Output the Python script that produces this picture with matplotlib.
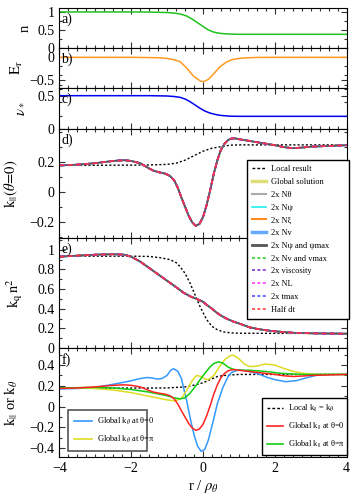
import matplotlib
matplotlib.use('Agg')
import matplotlib.pyplot as plt
from matplotlib.lines import Line2D
from matplotlib.ticker import MultipleLocator, FixedLocator, FuncFormatter

plt.rcParams['font.family'] = ['Liberation Serif', 'DejaVu Serif']
plt.rcParams['mathtext.fontset'] = 'stix'
plt.rcParams['font.size'] = 10

# ---- data ----
# a) density
r_n = [-4, -2, -1.5, -1.0, -0.75, -0.6, -0.45, -0.3, -0.15, 0.0, 0.15, 0.3, 0.45, 0.6, 0.8, 1.0, 2.0, 4.0]
n_prof = [1.0, 1.0, 0.997, 0.985, 0.962, 0.935, 0.885, 0.80, 0.70, 0.60, 0.50, 0.44, 0.41, 0.395, 0.385, 0.38, 0.38, 0.38]

# b) radial electric field
r_E = [-4, -2, -1.2, -1.0, -0.8, -0.64, -0.45, -0.27, -0.08, 0.01, 0.15, 0.29, 0.47, 0.66, 0.84, 1.0, 1.2, 1.5, 2.0, 4.0]
E_r = [0.0, 0.0, -0.01, -0.025, -0.055, -0.095, -0.24, -0.41, -0.52, -0.54, -0.485, -0.37, -0.21, -0.10, -0.045, -0.025, -0.012, -0.003, 0.0, 0.0]

# c) collisionality
r_nu = [-4, -1.5, -1.0, -0.8, -0.64, -0.5, -0.36, -0.22, -0.08, 0.05, 0.19, 0.33, 0.47, 0.75, 1.0, 4.0]
nu_star = [0.5, 0.5, 0.495, 0.487, 0.475, 0.45, 0.41, 0.36, 0.31, 0.27, 0.24, 0.22, 0.205, 0.192, 0.19, 0.19]

# d) k_par at theta=0, global solution (same curve used in f, red)
r_kp = [-4, -3.5, -3, -2.5, -2.2, -2.0, -1.75, -1.5, -1.38, -1.2, -1.05, -0.92, -0.8, -0.7, -0.6, -0.5, -0.4, -0.3, -0.2,
        -0.1, 0.0, 0.1, 0.2, 0.3, 0.4, 0.5, 0.6, 0.7, 0.8, 0.9, 1.0, 1.25, 1.5, 1.75, 2.0, 2.25, 2.5, 2.75, 3.0, 3.5, 4.0]
kpar0 = [0.175, 0.18, 0.19, 0.205, 0.21, 0.205, 0.19, 0.155, 0.14, 0.128, 0.12, 0.105, 0.075, 0.025, -0.04, -0.10, -0.16, -0.205, -0.228,
         -0.215, -0.17, -0.09, 0.01, 0.12, 0.21, 0.28, 0.32, 0.345, 0.355, 0.355, 0.35, 0.34, 0.33, 0.32, 0.31, 0.297, 0.29, 0.294, 0.30, 0.305, 0.31]

# d) local result
r_loc = [-4, -2, -1.5, -1.0, -0.75, -0.5, -0.25, 0.0, 0.25, 0.5, 0.75, 1.0, 4.0]
kloc_d = [0.175, 0.177, 0.178, 0.182, 0.19, 0.21, 0.24, 0.27, 0.29, 0.30, 0.31, 0.312, 0.312]

# e) k_q n^2
r_kq = [-4, -3.5, -3, -2.5, -2.2, -2.0, -1.75, -1.5, -1.25, -1.0, -0.75, -0.55, -0.35, -0.18, 0.0, 0.1, 0.25, 0.38, 0.5,
        0.65, 0.84, 1.0, 1.3, 1.5, 1.77, 2.0, 2.5, 3.0, 3.5, 4.0]
kq_glob = [0.93, 0.94, 0.95, 0.955, 0.95, 0.93, 0.88, 0.815, 0.75, 0.685, 0.62, 0.565, 0.525, 0.50, 0.47, 0.44, 0.40, 0.36, 0.33,
           0.30, 0.27, 0.25, 0.21, 0.195, 0.18, 0.17, 0.155, 0.15, 0.147, 0.145]
r_kql = [-4, -2, -1.5, -1.2, -0.92, -0.75, -0.64, -0.5, -0.36, -0.22, -0.08, 0.1, 0.25, 0.38, 0.55, 0.75, 1.0, 4.0]
kq_loc = [0.935, 0.935, 0.932, 0.92, 0.90, 0.87, 0.83, 0.76, 0.66, 0.54, 0.42, 0.29, 0.22, 0.19, 0.165, 0.155, 0.15, 0.148]

# f) local k_par = k_theta
r_locf = [-4, -1.0, -0.5, -0.2, 0.0, 0.2, 0.4, 0.6, 1.0, 4.0]
kloc_f = [0.177, 0.18, 0.19, 0.21, 0.23, 0.26, 0.29, 0.30, 0.31, 0.31]

# f) global k_par at theta=pi
r_kpi = [-4, -3, -2.5, -2, -1.5, -1.0, -0.8, -0.64, -0.5, -0.36, -0.2, -0.08, 0.05, 0.19, 0.3, 0.43, 0.55, 0.7, 0.84,
         1.0, 1.3, 1.7, 2.2, 2.7, 4.0]
kpar_pi = [0.18, 0.185, 0.18, 0.165, 0.14, 0.105, 0.085, 0.075, 0.085, 0.13, 0.2, 0.26, 0.32, 0.38, 0.415, 0.43, 0.42, 0.38, 0.36,
           0.35, 0.35, 0.34, 0.32, 0.31, 0.31]

# f) global k_theta at theta=0
r_kt0 = [-4, -3.5, -3, -2.58, -2.12, -1.75, -1.56, -1.4, -1.29, -1.15, -1.0, -0.9, -0.82, -0.7, -0.6, -0.5, -0.45, -0.35,
         -0.25, -0.15, -0.05, 0.05, 0.15, 0.29, 0.4, 0.56, 0.7, 0.8, 1.0, 1.2, 1.5, 1.8, 2.0, 2.3, 2.6, 2.9, 3.2, 3.5, 4.0]
kth0 = [0.17, 0.175, 0.185, 0.21, 0.24, 0.27, 0.28, 0.275, 0.265, 0.27, 0.30, 0.35, 0.365, 0.34, 0.27, 0.12, 0.05, -0.12,
        -0.27, -0.38, -0.43, -0.41, -0.32, -0.13, 0.03, 0.19, 0.29, 0.33, 0.355, 0.345, 0.32, 0.28, 0.26, 0.24, 0.25, 0.28, 0.305, 0.31, 0.31]

# f) global k_theta at theta=pi
r_ktp = [-4, -3.5, -3, -2.5, -2, -1.5, -1.0, -0.78, -0.6, -0.45, -0.3, -0.18, -0.05, 0.06, 0.15, 0.3, 0.45, 0.6, 0.75,
         0.85, 1.0, 1.15, 1.3, 1.5, 1.72, 2.0, 2.23, 2.5, 2.8, 3.2, 4.0]
kth_pi = [0.18, 0.18, 0.175, 0.16, 0.135, 0.10, 0.065, 0.055, 0.08, 0.16, 0.25, 0.30, 0.29, 0.265, 0.26, 0.30, 0.38, 0.45, 0.49,
          0.495, 0.46, 0.41, 0.385, 0.39, 0.41, 0.40, 0.37, 0.34, 0.32, 0.31, 0.31]

conv_labels = ['Global solution', '2x Nθ', '2x Nψ', '2x Nξ', '2x Nv', '2x Nψ and ψmax',
               '2x Nv and vmax', '2x viscosity', '2x NL', '2x tmax', 'Half dt']
conv_colors = ['#dede7a', '#aaaaaa', '#22eeee', '#ff8c1a', '#66aaff', '#555555',
               '#22cc22', '#7a22cc', '#ff33ff', '#4444ff', '#ff3333']
conv_dashed = [False, False, False, False, False, False, True, True, True, True, True]
conv_hlw = [2.5, 1.5, 1.2, 1.5, 2.5, 2.0, 1.1, 1.1, 1.1, 1.1, 1.1]

W, H = 356., 504.
fig = plt.figure(figsize=(W / 100, H / 100), dpi=100)

tops = [8, 48, 88, 129, 238, 348]
bots = [48, 88, 129, 238, 348, 457]
x0, x1 = 59.3, 346.7

def fmt(v, pos):
    v = round(v, 6) + 0.0
    return ('%g' % v).replace('-', '\u2212')

axs = []
for t, b in zip(tops, bots):
    ax = fig.add_axes([x0 / W, 1 - b / H, (x1 - x0) / W, (b - t) / H])
    ax.set_xlim(-4, 4)
    ax.xaxis.set_major_locator(MultipleLocator(2))
    ax.xaxis.set_minor_locator(MultipleLocator(0.25))
    ax.yaxis.set_major_formatter(FuncFormatter(fmt))
    ax.xaxis.set_major_formatter(FuncFormatter(fmt))
    ax.tick_params(which='both', direction='in', top=True, right=True, width=0.8, color='#333333', labelsize=10)
    ax.tick_params(which='major', length=4)
    ax.tick_params(which='minor', length=2)
    if b != bots[-1]:
        ax.tick_params(labelbottom=False)
    axs.append(ax)

dash = (0, (3, 2))
dot = (0, (1.5, 1.5))

# a)
ax = axs[0]
ax.plot(r_n, n_prof, color='#1fc21f', lw=1.1)
ax.set_ylim(0, 1.11)
ax.yaxis.set_major_locator(FixedLocator([0, 0.5, 1]))
ax.yaxis.set_minor_locator(MultipleLocator(0.25))
ax.set_ylabel('n', fontsize=10.5)

# b)
ax = axs[1]
ax.plot(r_E, E_r, color='#ff9922', lw=1.1)
ax.set_ylim(-0.676, 0.205)
ax.yaxis.set_major_locator(FixedLocator([-0.5, 0]))
ax.yaxis.set_minor_locator(MultipleLocator(0.2))
ax.set_ylabel(r'$\mathrm{E}_\mathrm{r}$', fontsize=10.5)

# c)
ax = axs[2]
ax.plot(r_nu, nu_star, color='#0000ee', lw=1.1)
ax.set_ylim(0, 0.615)
ax.yaxis.set_major_locator(FixedLocator([0, 0.5]))
ax.yaxis.set_minor_locator(MultipleLocator(0.2))
ax.set_ylabel(r'$\nu_*$', fontsize=10.5)

# d) and e): convergence tests all sit on top of each other
for ax, rr, yy, rl, yl in [(axs[3], r_kp, kpar0, r_loc, kloc_d), (axs[4], r_kq, kq_glob, r_kql, kq_loc)]:
    ax.plot(rl, yl, color='black', ls=dot, lw=1.0)
    for c, d in zip(conv_colors, conv_dashed):
        ax.plot(rr, yy, color=c, lw=1.2, ls=dash if d else '-')

axs[3].set_ylim(-0.309, 0.418)
axs[3].yaxis.set_major_locator(FixedLocator([-0.2, 0, 0.2]))
axs[3].yaxis.set_minor_locator(MultipleLocator(0.1))
axs[3].set_ylabel(r'$\mathrm{k}_{||}(\theta\!=\!0)$', fontsize=10.5)

axs[4].set_ylim(0, 1.12)
axs[4].yaxis.set_major_locator(FixedLocator([0, 0.2, 0.4, 0.6, 0.8, 1]))
axs[4].yaxis.set_minor_locator(MultipleLocator(0.1))
axs[4].set_ylabel(r'$\mathrm{k}_\mathrm{q}\,\mathrm{n}^2$', fontsize=10.5)

# f)
ax = axs[5]
ax.plot(r_locf, kloc_f, color='black', ls=dot, lw=1.0)
ax.plot(r_kt0, kth0, color='#3399ff', lw=1.1)
ax.plot(r_ktp, kth_pi, color='#dddd22', lw=1.1)
ax.plot(r_kpi, kpar_pi, color='#11cc11', lw=1.1)
ax.plot(r_kp, kpar0, color='#ff2222', lw=1.1)
ax.set_ylim(-0.484, 0.564)
ax.yaxis.set_major_locator(FixedLocator([-0.4, -0.2, 0, 0.2, 0.4]))
ax.yaxis.set_minor_locator(MultipleLocator(0.1))
ax.set_ylabel(r'$\mathrm{k}_{||}$ or $\mathrm{k}_\theta$', fontsize=10.5)
ax.set_xlabel(r'r / $\rho_\theta$', fontsize=10.5, labelpad=2)

# y labels: right edge in pixels from left of figure
lab_x = [32, 25, 26, 20, 25, 20]
for ax, lx in zip(axs, lab_x):
    ax.yaxis.set_label_coords((lx - x0) / (x1 - x0), 0.5)

for ax, s in zip(axs, ['a)', 'b)', 'c)', 'd)', 'e)', 'f)']):
    ax.annotate(s, xy=(0, 1), xycoords='axes fraction', xytext=(1.5, -3.5),
                textcoords='offset points', ha='left', va='top', fontsize=10)

def pxbox(l, t, r, b):
    return (l / W, 1 - b / H, (r - l) / W, (b - t) / H)

# big legend spanning d) and e)
h = [Line2D([], [], color='black', ls=(0, (2, 1.5)), lw=1.0)]
for c, d, lw in zip(conv_colors, conv_dashed, conv_hlw):
    h.append(Line2D([], [], color=c, lw=lw, ls=(0, (2, 1.5)) if d else '-'))
leg = fig.legend(h, ['Local result'] + conv_labels, loc='upper left', bbox_to_anchor=pxbox(246.7, 160, 349, 318),
                 mode='expand', borderaxespad=0, fontsize=6, handlelength=1.7, handletextpad=0.55,
                 labelspacing=0.57, borderpad=0.65, fancybox=False, framealpha=1, edgecolor='black')
leg.get_frame().set_linewidth(1.0)

# f) legends
h1 = [Line2D([], [], color='#3399ff', lw=1.2), Line2D([], [], color='#dddd22', lw=1.2)]
leg1 = axs[5].legend(h1, [r'Global k$_\theta$ at θ=0', r'Global k$_\theta$ at θ=π'], loc='upper left',
                     bbox_to_anchor=pxbox(68.3, 410, 146.7, 449.3), bbox_transform=fig.transFigure,
                     mode='expand', borderaxespad=0, fontsize=6, handlelength=2.2, handletextpad=0.5,
                     labelspacing=0.8, borderpad=0.7, fancybox=False, framealpha=1, edgecolor='#555555')
leg1.get_frame().set_linewidth(1.2)
axs[5].add_artist(leg1)

h2 = [Line2D([], [], color='black', ls=(0, (2, 1.5)), lw=1.0), Line2D([], [], color='#ff2222', lw=1.2),
      Line2D([], [], color='#11cc11', lw=1.2)]
leg2 = axs[5].legend(h2, [r'Local k$_{||}$ = k$_\theta$', r'Global k$_{||}$ at θ=0', r'Global k$_{||}$ at θ=π'],
                     loc='upper left', bbox_to_anchor=pxbox(261.7, 397.7, 346.5, 449.3), bbox_transform=fig.transFigure,
                     mode='expand', borderaxespad=0, fontsize=6, handlelength=2.0, handletextpad=0.5,
                     labelspacing=0.8, borderpad=0.6, fancybox=False, framealpha=1, edgecolor='black')
leg2.get_frame().set_linewidth(1.0)

fig.savefig('out.png', dpi=100)
